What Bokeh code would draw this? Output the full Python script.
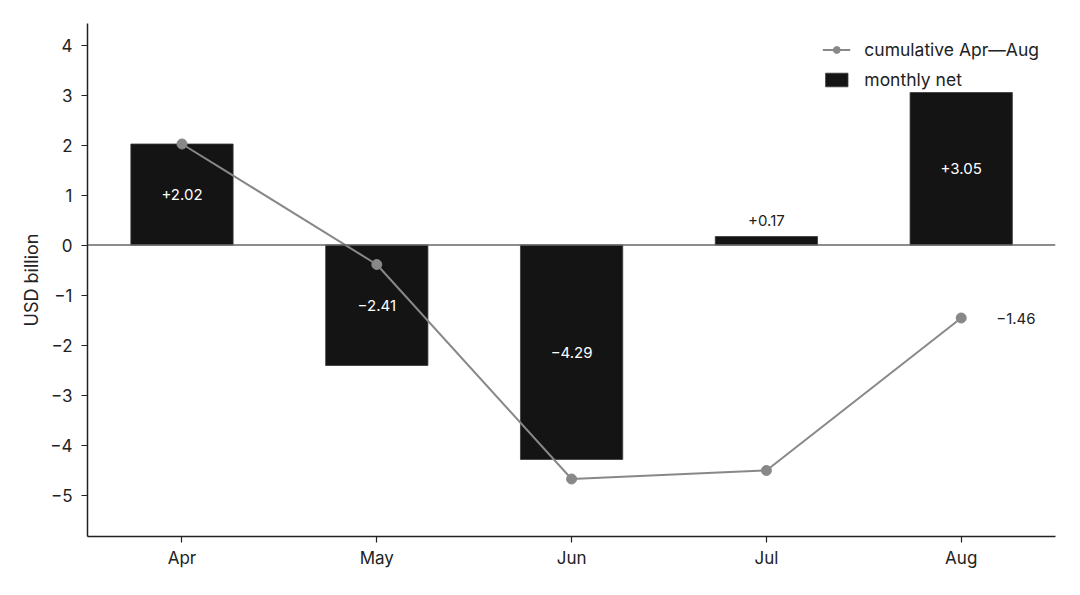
from bokeh.plotting import figure
from bokeh.models import Range1d, FixedTicker, Span, ColumnDataSource, Legend, LegendItem
from bokeh.core.properties import value
from bokeh.embed import file_html
from bokeh.resources import INLINE

months = ["Apr", "May", "Jun", "Jul", "Aug"]
monthly_net = [2.02, -2.41, -4.29, 0.17, 3.05]
cumulative = [2.02, -0.39, -4.68, -4.51, -1.46]
y_ticks = [-5, -4, -3, -2, -1, 0, 1, 2, 3, 4]

FONT = "Inter"


def fmt_signed(v):
    s = f"{abs(v):.2f}"
    return ("+" if v >= 0 else "\u2212") + s


def fmt_plain(v):
    s = f"{abs(v):.2f}"
    return ("" if v >= 0 else "\u2212") + s


xs = list(range(len(months)))

p = figure(width=1072, height=587, output_backend="svg", toolbar_location=None,
           x_range=Range1d(-0.485, 4.484), y_range=Range1d(-5.83, 4.43),
           min_border_left=87, min_border_right=17, min_border_top=23, min_border_bottom=51)

p.outline_line_color = None
p.grid.visible = False
p.background_fill_color = "white"

zero = Span(location=0, dimension="width", line_color="#666666", line_width=1.5)
p.add_layout(zero)

bar_src = ColumnDataSource(dict(x=xs, top=monthly_net))
bars = p.vbar(x="x", top="top", bottom=0, width=0.525, source=bar_src,
              fill_color="#141414", line_color="#3a3a3a", line_width=0.8)

line = p.line(xs, cumulative, line_color="#888888", line_width=2)
pts = p.scatter(xs, cumulative, size=10, fill_color="#888888", line_color="#888888")

# bar labels
in_x, in_y, in_t = [], [], []
out_x, out_y, out_t = [], [], []
for x, v in zip(xs, monthly_net):
    if abs(v) >= 0.5:
        in_x.append(x); in_y.append(v / 2); in_t.append(fmt_signed(v))
    else:
        out_x.append(x); out_y.append(v); out_t.append(fmt_signed(v))

p.text(in_x, in_y, text=in_t, text_color="white", text_font=value(FONT),
       text_font_size="15px", text_align="center", text_baseline="middle")
p.text(out_x, out_y, text=out_t, text_color="#222222", text_font=value(FONT),
       text_font_size="15px", text_align="center", text_baseline="middle", y_offset=-16)

# final cumulative label
p.text([xs[-1]], [cumulative[-1]], text=[fmt_plain(cumulative[-1])], text_color="#222222",
       text_font=value(FONT), text_font_size="15px", text_align="left",
       text_baseline="middle", x_offset=35)

# axes
p.xaxis.ticker = FixedTicker(ticks=xs)
p.xaxis.major_label_overrides = {x: m for x, m in zip(xs, months)}
p.yaxis.ticker = FixedTicker(ticks=y_ticks)
p.yaxis.major_label_overrides = {t: (str(t) if t >= 0 else "\u2212" + str(abs(t))) for t in y_ticks}
p.yaxis.axis_label = "USD billion"

for ax in (p.xaxis, p.yaxis):
    ax.axis_line_color = "#222222"
    ax.axis_line_width = 1.5
    ax.major_tick_line_color = "#222222"
    ax.major_tick_line_width = 1.2
    ax.major_tick_out = 6
    ax.major_tick_in = 0
    ax.minor_tick_line_color = None
    ax.major_label_text_font = FONT
    ax.major_label_text_font_size = "17px"
    ax.major_label_text_color = "#222222"
    ax.axis_label_text_font = FONT
    ax.axis_label_text_font_size = "18px"
    ax.axis_label_text_font_style = "normal"
    ax.axis_label_text_color = "#222222"

p.xaxis.major_label_standoff = 5
p.yaxis.major_label_standoff = 9
p.yaxis.axis_label_standoff = 5

legend = Legend(items=[
    LegendItem(label="cumulative Apr\u2014Aug", renderers=[line, pts]),
    LegendItem(label="monthly net", renderers=[bars]),
], location="top_right")
legend.border_line_color = None
legend.background_fill_alpha = 0
legend.label_text_font = FONT
legend.label_text_font_size = "17.5px"
legend.label_text_color = "#222222"
legend.glyph_width = 28
legend.glyph_height = 17
legend.label_standoff = 14
legend.spacing = 9
legend.margin = 16
legend.padding = 8
p.add_layout(legend)

open("out.html", "w").write(file_html(p, INLINE))
